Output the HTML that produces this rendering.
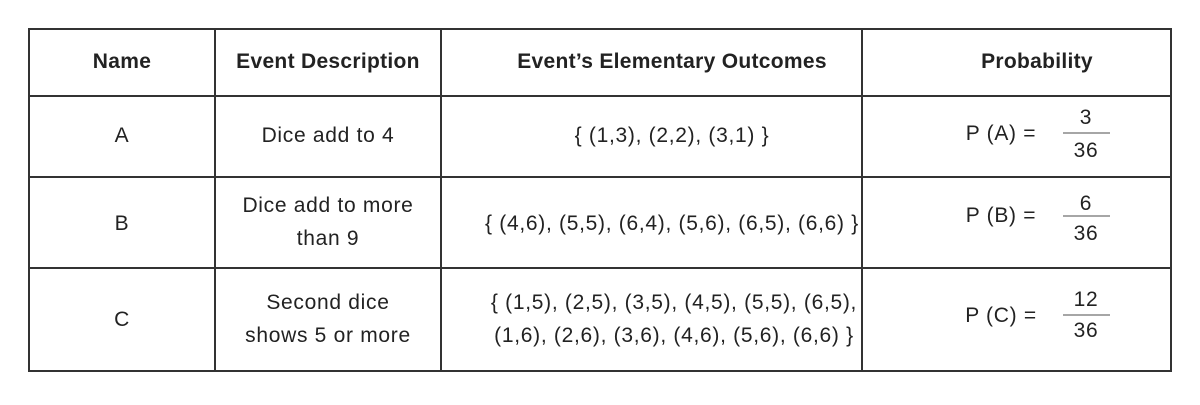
<!DOCTYPE html>
<html><head><style>
body{margin:0;background:#fff;}
svg text{font-family:"Liberation Sans",Arial,sans-serif;font-size:21px;letter-spacing:0.7px;fill:#222;}
</style></head><body>
<svg width="1200" height="400" xmlns="http://www.w3.org/2000/svg">
<g stroke="#333" stroke-width="2" fill="none">
<rect x="29" y="29" width="1142" height="342"/>
<line x1="215" y1="29" x2="215" y2="371"/>
<line x1="441" y1="29" x2="441" y2="371"/>
<line x1="862" y1="29" x2="862" y2="371"/>
<line x1="29" y1="96" x2="1171" y2="96"/>
<line x1="29" y1="177" x2="1171" y2="177"/>
<line x1="29" y1="268" x2="1171" y2="268"/>
</g>
<g text-anchor="middle">
<text x="122" y="68" font-weight="bold" style="letter-spacing:0.3px">Name</text>
<text x="328" y="68" font-weight="bold" style="letter-spacing:0.3px">Event Description</text>
<text x="672" y="68" font-weight="bold" style="letter-spacing:0.3px">Event’s Elementary Outcomes</text>
<text x="1037" y="68" font-weight="bold" style="letter-spacing:0.3px">Probability</text>
<text x="122" y="142">A</text>
<text x="328" y="142">Dice add to 4</text>
<text x="672" y="142">{ (1,3), (2,2), (3,1) }</text>
<text x="122" y="230">B</text>
<text x="328" y="212">Dice add to more</text>
<text x="328" y="245">than 9</text>
<text x="672" y="230">{ (4,6), (5,5), (6,4), (5,6), (6,5), (6,6) }</text>
<text x="122" y="326">C</text>
<text x="328" y="309">Second dice</text>
<text x="328" y="342">shows 5 or more</text>
<text x="674" y="309">{ (1,5), (2,5), (3,5), (4,5), (5,5), (6,5),</text>
<text x="674" y="342">(1,6), (2,6), (3,6), (4,6), (5,6), (6,6) }</text>
<text x="1001" y="140">P (A) =</text>
<text x="1086" y="124">3</text>
<text x="1086" y="157">36</text>
<text x="1001" y="222">P (B) =</text>
<text x="1086" y="210">6</text>
<text x="1086" y="240">36</text>
<text x="1001" y="322">P (C) =</text>
<text x="1086" y="306">12</text>
<text x="1086" y="337">36</text>
</g>
<g stroke="#888" stroke-width="1.5">
<line x1="1063" y1="133" x2="1110" y2="133"/>
<line x1="1063" y1="216" x2="1110" y2="216"/>
<line x1="1063" y1="315" x2="1110" y2="315"/>
</g>
</svg>
</body></html>
